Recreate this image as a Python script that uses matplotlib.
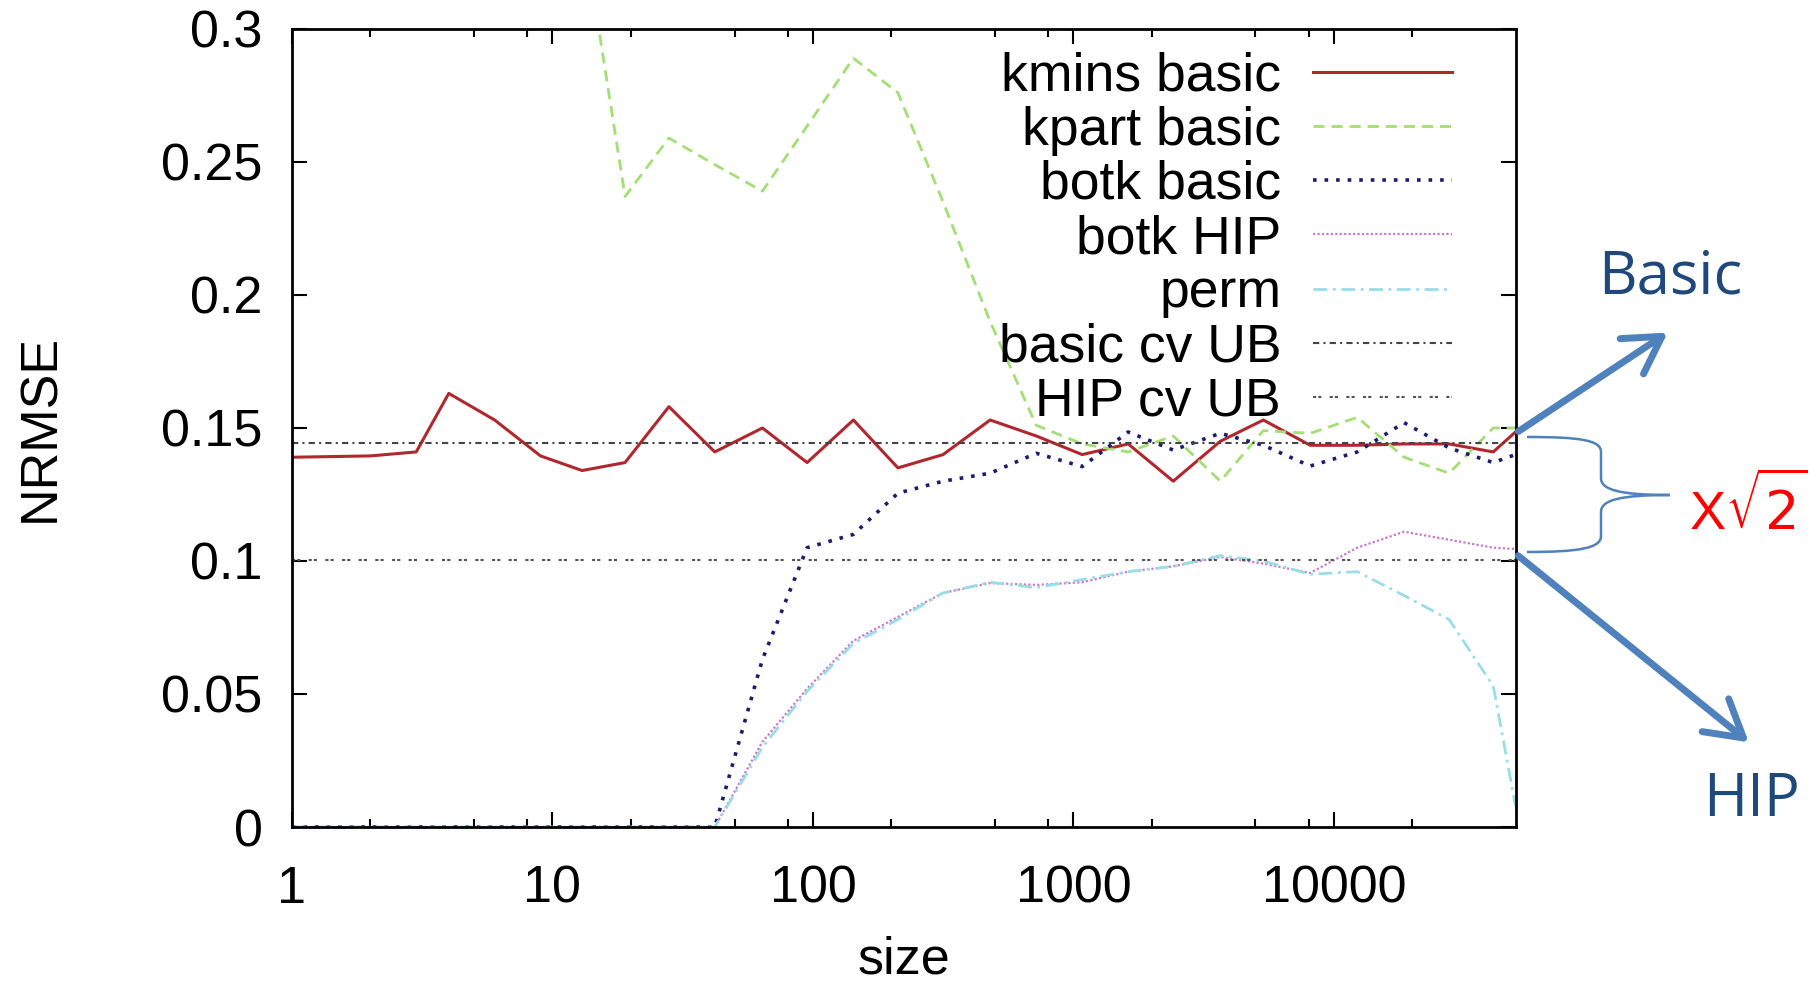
import numpy as np
import matplotlib.pyplot as plt
from matplotlib.patches import FancyArrowPatch, PathPatch
from matplotlib.path import Path
from matplotlib.ticker import FixedLocator, NullFormatter

# data
sizes = [1, 2, 3, 4, 6, 9, 13, 19, 28, 42, 64, 95, 143, 212, 316, 479, 720,
         1081, 1623, 2417, 3664, 5360, 8110, 12300, 18600, 27700, 40900, 49800]
kmins_basic = [0.139, 0.1395, 0.141, 0.163, 0.153, 0.1395, 0.134, 0.137, 0.158, 0.141,
               0.150, 0.137, 0.153, 0.135, 0.140, 0.153, 0.147, 0.140, 0.144, 0.130,
               0.145, 0.153, 0.1435, 0.1435, 0.144, 0.144, 0.141, 0.1485]
kpart_basic = [np.nan, np.nan, np.nan, np.nan, np.nan, np.nan, 0.34, 0.237, 0.259, 0.249,
               0.239, 0.2635, 0.289, 0.276, 0.235, 0.19, 0.151, 0.144, 0.141, 0.147,
               0.130, 0.149, 0.148, 0.154, 0.139, 0.133, 0.150, 0.150]
botk_basic = [0, 0, 0, 0, 0, 0, 0, 0, 0, 0,
              0.063, 0.105, 0.110, 0.1255, 0.130, 0.133, 0.1405, 0.1355, 0.1485, 0.1417,
              0.148, 0.1435, 0.1357, 0.141, 0.152, 0.1425, 0.137, 0.140]
botk_hip = [0, 0, 0, 0, 0, 0, 0, 0, 0, 0,
            0.032, 0.052, 0.070, 0.079, 0.088, 0.0917, 0.091, 0.092, 0.096, 0.098,
            0.1015, 0.099, 0.0955, 0.105, 0.111, 0.108, 0.105, 0.1045]
perm = [0, 0, 0, 0, 0, 0, 0, 0, 0, 0,
        0.030, 0.051, 0.069, 0.078, 0.088, 0.092, 0.090, 0.093, 0.096, 0.098,
        0.102, 0.100, 0.095, 0.096, 0.087, 0.078, 0.053, 0.008]
basic_cv_ub = 0.1443
hip_cv_ub = 0.1005

x_ticks = [1, 10, 100, 1000, 10000]
y_ticks = [0, 0.05, 0.1, 0.15, 0.2, 0.25, 0.3]
y_ticklabels = ['0', '0.05', '0.1', '0.15', '0.2', '0.25', '0.3']

plt.rcParams['font.family'] = 'Liberation Sans'
plt.rcParams['mathtext.fontset'] = 'dejavusans'

fig = plt.figure(figsize=(18.19, 9.85), dpi=100)
ax = fig.add_axes([0.1605, 0.1604, 0.6729, 0.8102])

ax.plot(sizes, kmins_basic, color='#b0272d', lw=2.2, label='kmins basic')
ax.plot(sizes, kpart_basic, color='#a3df74', lw=2.0, ls=(0, (4, 2.5)), label='kpart basic')
ax.plot(sizes, botk_basic, color='#1c1c6e', lw=2.6, ls=(0, (1, 2.2)), label='botk basic')
ax.plot(sizes, botk_hip, color='#cc77cc', lw=1.6, ls=(0, (1, 1)), label='botk HIP')
ax.plot(sizes, perm, color='#99dde6', lw=2.0, ls=(0, (5, 2, 1, 2)), label='perm')
ax.axhline(basic_cv_ub, color='#444444', lw=1.5, ls=(0, (3, 2, 1, 2)), label='basic cv UB')
ax.axhline(hip_cv_ub, color='#555555', lw=1.5, ls=(0, (1.5, 1, 1.5, 4)), label='HIP cv UB')

ax.set_xscale('log')
ax.set_xlim(1, 50000)
ax.set_ylim(0, 0.3)
ax.set_xticks(x_ticks)
ax.set_xticklabels([str(t) for t in x_ticks])
minor = [m * 10 ** e for e in range(5) for m in (2, 5, 8) if m * 10 ** e < 50000]
ax.xaxis.set_minor_locator(FixedLocator(minor))
ax.xaxis.set_minor_formatter(NullFormatter())
ax.set_yticks(y_ticks)
ax.set_yticklabels(y_ticklabels)
ax.tick_params(which='both', direction='in', top=True, right=True, width=1.5, labelsize=37.5)
ax.tick_params(which='major', length=11)
ax.tick_params(which='minor', length=6)
ax.tick_params(axis='x', pad=27)
ax.tick_params(axis='y', pad=21)
for s in ax.spines.values():
    s.set_linewidth(2)

ax.set_xlabel('size', fontsize=37.5)
ax.set_ylabel('NRMSE', fontsize=37.5)
ax.xaxis.set_label_coords(0.5, -0.136)
ax.yaxis.set_label_coords(-0.185, 0.5)
ax.xaxis.label.set_va('top')

ax.legend(loc='upper right', bbox_to_anchor=(0.948, 0.972), frameon=False, markerfirst=False,
          fontsize=38.5, handlelength=2.6, handletextpad=0.6, labelspacing=0.08,
          borderpad=0, borderaxespad=0)


# annotations on the right, positions in figure pixels
def fpx(x, y):
    return (x / 1819, 1 - y / 985)


blue = '#4f81bd'
fig.text(*fpx(1670, 278), 'Basic', family='Open Sans', color='#1f497d', fontsize=43,
         ha='center', va='center')
fig.text(*fpx(1752, 800), 'HIP', family='Open Sans', color='#1f497d', fontsize=43,
         ha='center', va='center')
fig.text(*fpx(1748, 508), r'X$\sqrt{2}$', color='red', fontsize=39, ha='center', va='center')

for a, b in [((1516, 433), (1670, 331)), ((1516, 554), (1751, 744))]:
    arr = FancyArrowPatch(fpx(*a), fpx(*b), transform=fig.transFigure,
                          arrowstyle='->,head_length=0.65,head_width=0.38',
                          mutation_scale=40, lw=5, color=blue)
    fig.add_artist(arr)

brace_pts = [(1527, 437), (1580, 437), (1601, 440), (1601, 452), (1601, 478),
             (1601, 490), (1620, 495), (1670, 495),
             (1620, 495), (1601, 500), (1601, 512), (1601, 536),
             (1601, 548), (1580, 552), (1527, 552)]
codes = [Path.MOVETO, Path.CURVE4, Path.CURVE4, Path.CURVE4, Path.LINETO,
         Path.CURVE4, Path.CURVE4, Path.CURVE4,
         Path.CURVE4, Path.CURVE4, Path.CURVE4, Path.LINETO,
         Path.CURVE4, Path.CURVE4, Path.CURVE4]
brace = PathPatch(Path([fpx(*p) for p in brace_pts], codes), transform=fig.transFigure,
                  fill=False, edgecolor=blue, lw=1.8)
fig.add_artist(brace)

fig.savefig('out.png', dpi=100)
